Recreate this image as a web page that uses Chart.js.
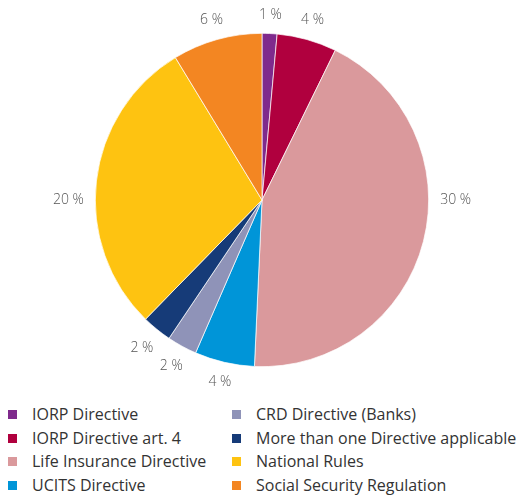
<!DOCTYPE html>
<html>
<head>
<meta charset="utf-8">
<script src="https://cdn.jsdelivr.net/npm/chart.js@4/dist/chart.umd.min.js"></script>
<style>
    body { margin: 0; background: #fff; }
    #wrap { position: relative; width: 516px; height: 496px; }
    #pie { position: absolute; left: 0; top: 0; }
    .legend-item {
        position: absolute;
        font-family: "Open Sans", sans-serif;
        font-size: 16px;
        color: #333;
        line-height: 20px;
        white-space: nowrap;
    }
    .legend-item span.box {
        position: absolute;
        left: -24px;
        top: 6px;
        width: 9px;
        height: 9px;
    }
</style>
</head>
<body>
<div id="wrap">
    <canvas id="pie" width="516" height="400"></canvas>
    <div id="legend"></div>
</div>
<script>
// Data
const categories = [
    'IORP Directive',
    'IORP Directive art. 4',
    'Life Insurance Directive',
    'UCITS Directive',
    'CRD Directive (Banks)',
    'More than one Directive applicable',
    'National Rules',
    'Social Security Regulation'
];
const shares = [1, 4, 30, 4, 2, 2, 20, 6];
const shareLabels = ['1 %', '4 %', '30 %', '4 %', '2 %', '2 %', '20 %', '6 %'];
const colors = ['#7f2a8c', '#b0003e', '#da999c', '#0095d8', '#8f93b8', '#163b78', '#fec311', '#f38622'];

// label di luar pie
const outsideLabels = {
    id: 'outsideLabels',
    afterDatasetsDraw(chart) {
        const ctx = chart.ctx;
        const arcs = chart.getDatasetMeta(0).data;
        ctx.save();
        ctx.font = '300 14px "Open Sans", sans-serif';
        ctx.fillStyle = '#555';
        ctx.textAlign = 'center';
        ctx.textBaseline = 'middle';
        arcs.forEach((arc, i) => {
            const p = arc.getProps(['x', 'y', 'startAngle', 'endAngle', 'outerRadius'], true);
            let mid = (p.startAngle + p.endAngle) / 2;
            // slice besar: taruh label di arah horizontal kalau tercakup
            if (p.endAngle - p.startAngle > Math.PI / 3) {
                for (const a of [0, Math.PI, 2 * Math.PI]) {
                    if (p.startAngle < a && p.endAngle > a) mid = a;
                }
            }
            const r = p.outerRadius + 18 + 9 * Math.abs(Math.cos(mid));
            ctx.fillText(shareLabels[i], p.x + r * Math.cos(mid), p.y + r * Math.sin(mid));
        });
        ctx.restore();
    }
};

new Chart(document.getElementById('pie'), {
    type: 'pie',
    data: {
        labels: categories,
        datasets: [{
            data: shares,
            backgroundColor: colors,
            borderColor: '#fff',
            borderWidth: 0.7
        }]
    },
    options: {
        responsive: false,
        animation: false,
        layout: { padding: { top: 33, bottom: 33, left: 95, right: 87 } },
        plugins: {
            legend: { display: false },
            tooltip: { enabled: false }
        }
    },
    plugins: [outsideLabels]
});

// Legend dua kolom (urut per kolom)
const legend = document.getElementById('legend');
categories.forEach((name, i) => {
    const col = Math.floor(i / 4);
    const row = i % 4;
    const item = document.createElement('div');
    item.className = 'legend-item';
    item.style.left = (col === 0 ? 32 : 256) + 'px';
    item.style.top = (404 + row * 23.7) + 'px';
    item.innerHTML = '<span class="box" style="background:' + colors[i] + '"></span>' + name;
    legend.appendChild(item);
});
</script>
</body>
</html>
